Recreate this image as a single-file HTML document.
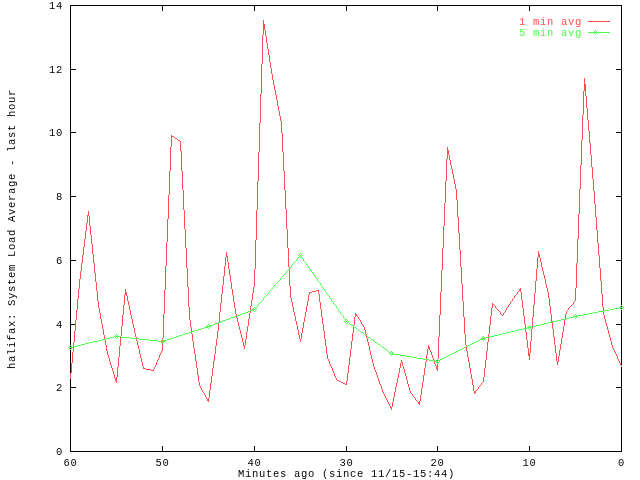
<!DOCTYPE html>
<html><head><meta charset="utf-8"><title>halifax: System Load Average - last hour</title>
<style>
html,body{margin:0;padding:0;background:#fff;width:640px;height:480px;overflow:hidden}
svg{display:block}
text{font-family:"Liberation Mono","DejaVu Sans Mono",monospace;font-size:10.5px;letter-spacing:0.7px}
</style></head><body>
<svg width="640" height="480" viewBox="0 0 640 480">
<rect width="640" height="480" fill="#fff"/>

<g stroke="#000" stroke-width="1" fill="none" shape-rendering="crispEdges">
<rect x="70.5" y="5.5" width="551" height="446"/>
<path d="M70 451.5H76M616 451.5H622M70 387.5H76M616 387.5H622M70 324.5H76M616 324.5H622M70 260.5H76M616 260.5H622M70 196.5H76M616 196.5H622M70 132.5H76M616 132.5H622M70 69.5H76M616 69.5H622M70 5.5H76M616 5.5H622M70.5 452V446M70.5 5V11M162.5 452V446M162.5 5V11M254.5 452V446M254.5 5V11M346.5 452V446M346.5 5V11M437.5 452V446M437.5 5V11M529.5 452V446M529.5 5V11M621.5 452V446M621.5 5V11"/>
</g>
<g fill="#000" style="opacity:0.999">
<text x="63" y="455" text-anchor="end">0</text>
<text x="63" y="391" text-anchor="end">2</text>
<text x="63" y="328" text-anchor="end">4</text>
<text x="63" y="264" text-anchor="end">6</text>
<text x="63" y="200" text-anchor="end">8</text>
<text x="63" y="136" text-anchor="end">10</text>
<text x="63" y="73" text-anchor="end">12</text>
<text x="63" y="9" text-anchor="end">14</text>
<text x="70.5" y="466" text-anchor="middle">60</text>
<text x="162.5" y="466" text-anchor="middle">50</text>
<text x="254.5" y="466" text-anchor="middle">40</text>
<text x="346.5" y="466" text-anchor="middle">30</text>
<text x="437.5" y="466" text-anchor="middle">20</text>
<text x="529.5" y="466" text-anchor="middle">10</text>
<text x="621.5" y="466" text-anchor="middle">0</text>
<text x="238" y="477">Minutes ago (since 11/15-15:44)</text>
<text transform="translate(15,369) rotate(-90)" x="0" y="0">halifax: System Load Average - last hour</text>
</g>
<g style="opacity:0.999"><text x="519" y="25" fill="#ff5050">1 min avg</text>
<text x="519" y="36" fill="#50ff50">5 min avg</text></g>
<g shape-rendering="crispEdges" stroke-width="1" fill="none" stroke-linejoin="round">
<path fill="#ff5050" d="M588 21h1v1h-1zM589 21h1v1h-1zM590 21h1v1h-1zM591 21h1v1h-1zM592 21h1v1h-1zM593 21h1v1h-1zM594 21h1v1h-1zM595 21h1v1h-1zM596 21h1v1h-1zM597 21h1v1h-1zM598 21h1v1h-1zM599 21h1v1h-1zM600 21h1v1h-1zM601 21h1v1h-1zM602 21h1v1h-1zM603 21h1v1h-1zM604 21h1v1h-1zM605 21h1v1h-1zM606 21h1v1h-1zM607 21h1v1h-1zM608 21h1v1h-1zM609 21h1v1h-1z"/>
<path fill="#50ff50" d="M588 32h1v1h-1zM589 32h1v1h-1zM590 32h1v1h-1zM591 32h1v1h-1zM592 32h1v1h-1zM593 32h1v1h-1zM594 31h1v3h-1zM595 30h1v1h-1zM595 32h1v1h-1zM595 34h1v1h-1zM596 31h1v3h-1zM597 32h1v1h-1zM598 32h1v1h-1zM599 32h1v1h-1zM600 32h1v1h-1zM601 32h1v1h-1zM602 32h1v1h-1zM603 32h1v1h-1zM604 32h1v1h-1zM605 32h1v1h-1zM606 32h1v1h-1zM607 32h1v1h-1zM608 32h1v1h-1zM609 32h1v1h-1z"/>
</g>
<path fill="#ff5050" shape-rendering="crispEdges" d="M70 373h1v6h-1zM71 363h1v10h-1zM72 352h1v11h-1zM73 342h1v4h-1zM73 347h1v5h-1zM74 331h1v11h-1zM75 320h1v11h-1zM76 310h1v10h-1zM77 299h1v11h-1zM78 289h1v10h-1zM79 279h1v10h-1zM80 271h1v8h-1zM81 263h1v8h-1zM82 255h1v8h-1zM83 247h1v8h-1zM84 239h1v8h-1zM85 231h1v8h-1zM86 223h1v8h-1zM87 215h1v8h-1zM88 211h1v5h-1zM89 216h1v10h-1zM90 226h1v9h-1zM91 235h1v9h-1zM92 244h1v10h-1zM93 254h1v9h-1zM94 263h1v10h-1zM95 273h1v9h-1zM96 282h1v9h-1zM97 291h1v10h-1zM98 301h1v7h-1zM99 308h1v5h-1zM100 313h1v6h-1zM101 319h1v5h-1zM102 324h1v5h-1zM103 329h1v6h-1zM104 335h1v4h-1zM105 340h1v5h-1zM106 345h1v6h-1zM107 351h1v4h-1zM108 355h1v3h-1zM109 358h1v4h-1zM110 362h1v3h-1zM111 365h1v3h-1zM112 368h1v3h-1zM113 371h1v3h-1zM114 374h1v4h-1zM115 378h1v3h-1zM116 377h1v6h-1zM117 367h1v10h-1zM118 357h1v10h-1zM119 346h1v11h-1zM120 337h1v9h-1zM121 326h1v10h-1zM122 315h1v11h-1zM123 305h1v10h-1zM124 295h1v10h-1zM125 289h1v6h-1zM126 292h1v4h-1zM127 296h1v5h-1zM128 301h1v4h-1zM129 305h1v5h-1zM130 310h1v5h-1zM131 315h1v4h-1zM132 319h1v5h-1zM133 324h1v4h-1zM134 328h1v5h-1zM135 333h1v4h-1zM136 337h1v1h-1zM136 339h1v2h-1zM137 341h1v4h-1zM138 345h1v4h-1zM139 349h1v5h-1zM140 354h1v4h-1zM141 358h1v4h-1zM142 362h1v4h-1zM143 366h1v3h-1zM144 368h1v1h-1zM145 368h1v1h-1zM146 369h1v1h-1zM147 369h1v1h-1zM148 369h1v1h-1zM149 369h1v1h-1zM150 369h1v1h-1zM151 370h1v1h-1zM152 370h1v1h-1zM153 369h1v2h-1zM154 367h1v2h-1zM155 365h1v2h-1zM156 362h1v3h-1zM157 360h1v2h-1zM158 358h1v2h-1zM159 355h1v3h-1zM160 353h1v2h-1zM161 351h1v2h-1zM162 338h1v1h-1zM162 340h1v1h-1zM162 342h1v1h-1zM162 344h1v7h-1zM163 314h1v24h-1zM164 290h1v24h-1zM165 266h1v24h-1zM166 242h1v24h-1zM167 219h1v23h-1zM168 195h1v24h-1zM169 171h1v24h-1zM170 147h1v24h-1zM171 135h1v12h-1zM172 136h1v1h-1zM173 136h1v1h-1zM174 137h1v1h-1zM175 138h1v1h-1zM176 138h1v1h-1zM177 139h1v1h-1zM178 140h1v1h-1zM179 140h1v1h-1zM180 141h1v10h-1zM181 151h1v20h-1zM182 171h1v19h-1zM183 190h1v20h-1zM184 210h1v19h-1zM185 229h1v19h-1zM186 248h1v20h-1zM187 268h1v19h-1zM188 287h1v20h-1zM189 307h1v13h-1zM190 320h1v7h-1zM191 327h1v5h-1zM191 333h1v1h-1zM192 334h1v7h-1zM193 341h1v7h-1zM194 348h1v6h-1zM195 354h1v7h-1zM196 361h1v7h-1zM197 368h1v7h-1zM198 375h1v7h-1zM199 382h1v4h-1zM200 386h1v2h-1zM201 388h1v2h-1zM202 390h1v2h-1zM203 392h1v1h-1zM204 393h1v2h-1zM205 395h1v2h-1zM206 397h1v2h-1zM207 399h1v2h-1zM208 398h1v4h-1zM209 390h1v8h-1zM210 383h1v7h-1zM211 376h1v7h-1zM212 368h1v8h-1zM213 361h1v7h-1zM214 354h1v7h-1zM215 346h1v8h-1zM216 339h1v7h-1zM217 331h1v8h-1zM218 323h1v8h-1zM219 312h1v10h-1zM220 303h1v9h-1zM221 294h1v9h-1zM222 285h1v9h-1zM223 276h1v9h-1zM224 266h1v10h-1zM225 257h1v9h-1zM226 252h1v5h-1zM227 256h1v6h-1zM228 262h1v7h-1zM229 269h1v6h-1zM230 275h1v7h-1zM231 282h1v7h-1zM232 289h1v6h-1zM233 295h1v7h-1zM234 302h1v6h-1zM235 308h1v6h-1zM236 314h1v2h-1zM236 317h1v1h-1zM237 318h1v4h-1zM238 322h1v4h-1zM239 326h1v4h-1zM240 330h1v4h-1zM241 334h1v4h-1zM242 338h1v4h-1zM243 342h1v4h-1zM244 345h1v4h-1zM245 339h1v6h-1zM246 332h1v7h-1zM247 326h1v6h-1zM248 319h1v7h-1zM249 313h1v6h-1zM250 306h1v4h-1zM250 311h1v2h-1zM251 300h1v6h-1zM252 293h1v7h-1zM253 287h1v6h-1zM254 269h1v18h-1zM255 240h1v29h-1zM256 210h1v30h-1zM257 181h1v29h-1zM258 152h1v29h-1zM259 123h1v29h-1zM260 94h1v29h-1zM261 64h1v30h-1zM262 35h1v29h-1zM263 20h1v15h-1zM264 24h1v6h-1zM265 30h1v6h-1zM266 36h1v7h-1zM267 43h1v6h-1zM268 49h1v6h-1zM269 55h1v7h-1zM270 62h1v6h-1zM271 68h1v6h-1zM272 74h1v6h-1zM273 80h1v5h-1zM274 85h1v5h-1zM275 90h1v5h-1zM276 95h1v5h-1zM277 100h1v6h-1zM278 106h1v5h-1zM279 111h1v5h-1zM280 116h1v5h-1zM281 121h1v12h-1zM282 133h1v19h-1zM283 152h1v19h-1zM284 171h1v19h-1zM285 190h1v19h-1zM286 209h1v20h-1zM287 229h1v19h-1zM288 248h1v19h-1zM289 267h1v1h-1zM289 269h1v17h-1zM290 286h1v12h-1zM291 298h1v4h-1zM292 302h1v5h-1zM293 307h1v5h-1zM294 312h1v4h-1zM295 316h1v5h-1zM296 321h1v4h-1zM297 325h1v5h-1zM298 330h1v5h-1zM299 335h1v4h-1zM300 339h1v3h-1zM301 333h1v6h-1zM302 328h1v5h-1zM303 322h1v6h-1zM304 317h1v5h-1zM305 312h1v5h-1zM306 306h1v6h-1zM307 301h1v5h-1zM308 295h1v6h-1zM309 292h1v3h-1zM310 292h1v1h-1zM311 292h1v1h-1zM312 291h1v1h-1zM313 291h1v1h-1zM314 291h1v1h-1zM315 291h1v1h-1zM316 290h1v1h-1zM317 290h1v1h-1zM318 290h1v4h-1zM319 294h1v8h-1zM320 302h1v7h-1zM321 309h1v8h-1zM322 317h1v7h-1zM323 324h1v7h-1zM324 331h1v8h-1zM325 339h1v7h-1zM326 346h1v8h-1zM327 354h1v5h-1zM328 359h1v2h-1zM329 361h1v3h-1zM330 364h1v2h-1zM331 366h1v2h-1zM332 368h1v3h-1zM333 371h1v2h-1zM334 373h1v3h-1zM335 376h1v2h-1zM336 378h1v2h-1zM337 380h1v1h-1zM338 380h1v1h-1zM339 381h1v1h-1zM340 381h1v1h-1zM341 382h1v1h-1zM342 382h1v1h-1zM343 383h1v1h-1zM344 383h1v1h-1zM345 384h1v1h-1zM346 381h1v4h-1zM347 373h1v8h-1zM348 365h1v8h-1zM349 357h1v8h-1zM350 349h1v8h-1zM351 341h1v8h-1zM352 333h1v8h-1zM353 325h1v1h-1zM353 327h1v6h-1zM354 317h1v8h-1zM355 313h1v4h-1zM356 314h1v2h-1zM357 316h1v1h-1zM358 317h1v2h-1zM359 319h1v1h-1zM360 320h1v2h-1zM361 322h1v2h-1zM362 324h1v1h-1zM363 325h1v2h-1zM364 327h1v3h-1zM365 330h1v4h-1zM366 334h1v1h-1zM366 336h1v2h-1zM367 338h1v4h-1zM368 342h1v4h-1zM369 346h1v5h-1zM370 351h1v4h-1zM371 355h1v4h-1zM372 359h1v4h-1zM373 363h1v4h-1zM374 367h1v3h-1zM375 370h1v2h-1zM376 372h1v3h-1zM377 375h1v3h-1zM378 378h1v3h-1zM379 381h1v3h-1zM380 384h1v2h-1zM381 386h1v3h-1zM382 389h1v3h-1zM383 392h1v2h-1zM384 394h1v2h-1zM385 396h1v2h-1zM386 398h1v2h-1zM387 400h1v2h-1zM388 402h1v2h-1zM389 404h1v2h-1zM390 406h1v2h-1zM391 407h1v3h-1zM392 402h1v5h-1zM393 397h1v5h-1zM394 392h1v5h-1zM395 387h1v5h-1zM396 383h1v4h-1zM397 378h1v5h-1zM398 373h1v5h-1zM399 368h1v5h-1zM400 363h1v5h-1zM401 360h1v3h-1zM402 362h1v4h-1zM403 366h1v3h-1zM404 369h1v4h-1zM405 373h1v3h-1zM406 376h1v4h-1zM407 380h1v4h-1zM408 384h1v3h-1zM409 387h1v4h-1zM410 391h1v2h-1zM411 393h1v1h-1zM412 394h1v2h-1zM413 396h1v1h-1zM414 397h1v1h-1zM415 398h1v2h-1zM416 400h1v1h-1zM417 401h1v1h-1zM418 402h1v2h-1zM419 401h1v4h-1zM420 395h1v6h-1zM421 388h1v7h-1zM422 382h1v6h-1zM423 375h1v7h-1zM424 368h1v7h-1zM425 362h1v6h-1zM426 355h1v4h-1zM426 360h1v2h-1zM427 349h1v6h-1zM428 345h1v4h-1zM429 347h1v3h-1zM430 350h1v2h-1zM431 352h1v3h-1zM432 355h1v3h-1zM433 358h1v2h-1zM434 361h1v3h-1zM435 364h1v2h-1zM436 366h1v3h-1zM437 360h1v1h-1zM437 362h1v1h-1zM437 364h1v7h-1zM438 337h1v22h-1zM439 315h1v22h-1zM440 292h1v23h-1zM441 270h1v22h-1zM442 248h1v22h-1zM443 226h1v22h-1zM444 203h1v23h-1zM445 181h1v22h-1zM446 159h1v22h-1zM447 147h1v12h-1zM448 150h1v5h-1zM449 155h1v5h-1zM450 160h1v5h-1zM451 165h1v4h-1zM452 169h1v5h-1zM453 174h1v5h-1zM454 179h1v5h-1zM455 184h1v5h-1zM456 189h1v11h-1zM457 200h1v17h-1zM458 217h1v16h-1zM459 233h1v17h-1zM460 250h1v17h-1zM461 267h1v17h-1zM462 284h1v17h-1zM463 301h1v16h-1zM464 317h1v17h-1zM465 334h1v11h-1zM466 345h1v1h-1zM466 347h1v4h-1zM467 351h1v6h-1zM468 357h1v5h-1zM469 362h1v6h-1zM470 368h1v6h-1zM471 374h1v5h-1zM472 379h1v6h-1zM473 385h1v6h-1zM474 391h1v3h-1zM475 391h1v2h-1zM476 390h1v1h-1zM477 389h1v1h-1zM478 387h1v2h-1zM479 386h1v1h-1zM480 385h1v1h-1zM481 383h1v2h-1zM482 382h1v1h-1zM483 377h1v5h-1zM484 368h1v9h-1zM485 360h1v8h-1zM486 351h1v9h-1zM487 342h1v9h-1zM488 334h1v3h-1zM488 338h1v4h-1zM489 325h1v9h-1zM490 316h1v9h-1zM491 308h1v8h-1zM492 303h1v5h-1zM493 304h1v1h-1zM494 305h1v1h-1zM495 306h1v2h-1zM496 308h1v1h-1zM497 309h1v1h-1zM498 310h1v1h-1zM499 311h1v1h-1zM500 312h1v2h-1zM501 314h1v1h-1zM502 315h1v1h-1zM503 313h1v2h-1zM504 312h1v1h-1zM505 310h1v2h-1zM506 308h1v2h-1zM507 307h1v1h-1zM508 305h1v2h-1zM509 304h1v1h-1zM510 302h1v2h-1zM511 301h1v1h-1zM512 299h1v2h-1zM513 298h1v1h-1zM514 296h1v2h-1zM515 295h1v1h-1zM516 294h1v1h-1zM517 292h1v2h-1zM518 291h1v1h-1zM519 289h1v2h-1zM520 288h1v4h-1zM521 292h1v8h-1zM522 300h1v8h-1zM523 308h1v8h-1zM524 316h1v8h-1zM525 324h1v4h-1zM525 329h1v3h-1zM526 332h1v8h-1zM527 340h1v8h-1zM528 348h1v8h-1zM529 353h1v7h-1zM530 341h1v12h-1zM531 329h1v12h-1zM532 317h1v9h-1zM532 327h1v2h-1zM533 305h1v12h-1zM534 293h1v12h-1zM535 281h1v12h-1zM536 269h1v12h-1zM537 257h1v12h-1zM538 251h1v6h-1zM539 254h1v4h-1zM540 258h1v4h-1zM541 262h1v5h-1zM542 267h1v4h-1zM543 271h1v4h-1zM544 275h1v4h-1zM545 279h1v5h-1zM546 284h1v4h-1zM547 288h1v4h-1zM548 292h1v6h-1zM549 298h1v8h-1zM550 306h1v8h-1zM551 314h1v8h-1zM552 322h1v7h-1zM553 329h1v8h-1zM554 337h1v8h-1zM555 345h1v8h-1zM556 353h1v8h-1zM557 361h1v4h-1zM558 356h1v6h-1zM559 350h1v6h-1zM560 344h1v6h-1zM561 338h1v6h-1zM562 332h1v6h-1zM563 326h1v6h-1zM564 320h1v6h-1zM565 314h1v4h-1zM565 319h1v1h-1zM566 311h1v3h-1zM567 310h1v1h-1zM568 308h1v2h-1zM569 307h1v1h-1zM570 306h1v1h-1zM571 305h1v1h-1zM572 304h1v1h-1zM573 302h1v2h-1zM574 301h1v1h-1zM575 288h1v13h-1zM576 263h1v25h-1zM577 239h1v24h-1zM578 214h1v25h-1zM579 189h1v25h-1zM580 165h1v24h-1zM581 140h1v25h-1zM582 115h1v25h-1zM583 91h1v24h-1zM584 78h1v13h-1zM585 84h1v12h-1zM586 96h1v12h-1zM587 108h1v12h-1zM588 120h1v11h-1zM589 131h1v12h-1zM590 143h1v12h-1zM591 155h1v12h-1zM592 167h1v12h-1zM593 179h1v12h-1zM594 191h1v13h-1zM595 204h1v13h-1zM596 217h1v13h-1zM597 230h1v13h-1zM598 243h1v12h-1zM599 255h1v13h-1zM600 268h1v13h-1zM601 281h1v13h-1zM602 294h1v13h-1zM603 307h1v4h-1zM603 312h1v3h-1zM604 315h1v4h-1zM605 319h1v4h-1zM606 323h1v3h-1zM607 326h1v4h-1zM608 330h1v4h-1zM609 334h1v3h-1zM610 337h1v4h-1zM611 341h1v4h-1zM612 345h1v3h-1zM613 348h1v2h-1zM614 350h1v2h-1zM615 352h1v2h-1zM616 354h1v2h-1zM617 356h1v3h-1zM618 359h1v2h-1zM619 361h1v2h-1zM620 363h1v2h-1zM621 365h1v2h-1z"/>
<path fill="#50ff50" shape-rendering="crispEdges" d="M68 347h1v1h-1zM69 346h1v1h-1zM69 348h1v1h-1zM70 345h1v1h-1zM70 347h1v1h-1zM70 349h1v1h-1zM71 346h1v3h-1zM72 347h1v1h-1zM73 346h1v1h-1zM74 346h1v1h-1zM75 346h1v1h-1zM76 346h1v1h-1zM77 345h1v1h-1zM78 345h1v1h-1zM79 345h1v1h-1zM80 345h1v1h-1zM81 344h1v1h-1zM82 344h1v1h-1zM83 344h1v1h-1zM84 344h1v1h-1zM85 343h1v1h-1zM86 343h1v1h-1zM87 343h1v1h-1zM88 343h1v1h-1zM89 342h1v1h-1zM90 342h1v1h-1zM91 342h1v1h-1zM92 342h1v1h-1zM93 341h1v1h-1zM94 341h1v1h-1zM95 341h1v1h-1zM96 341h1v1h-1zM97 341h1v1h-1zM98 340h1v1h-1zM99 340h1v1h-1zM100 340h1v1h-1zM101 340h1v1h-1zM102 339h1v1h-1zM103 339h1v1h-1zM104 339h1v1h-1zM105 339h1v1h-1zM106 338h1v1h-1zM107 338h1v1h-1zM108 338h1v1h-1zM109 338h1v1h-1zM110 337h1v1h-1zM111 337h1v1h-1zM112 337h1v1h-1zM113 337h1v1h-1zM114 336h1v1h-1zM115 335h1v3h-1zM116 334h1v1h-1zM116 336h1v1h-1zM116 338h1v1h-1zM117 335h1v3h-1zM118 336h1v1h-1zM119 336h1v1h-1zM120 336h1v1h-1zM121 337h1v1h-1zM122 337h1v1h-1zM123 337h1v1h-1zM124 337h1v1h-1zM125 337h1v1h-1zM126 337h1v1h-1zM127 337h1v1h-1zM128 337h1v1h-1zM129 337h1v1h-1zM130 338h1v1h-1zM131 338h1v1h-1zM132 338h1v1h-1zM133 338h1v1h-1zM134 338h1v1h-1zM135 338h1v1h-1zM136 338h1v1h-1zM137 338h1v1h-1zM138 338h1v1h-1zM139 339h1v1h-1zM140 339h1v1h-1zM141 339h1v1h-1zM142 339h1v1h-1zM143 339h1v1h-1zM144 339h1v1h-1zM145 339h1v1h-1zM146 339h1v1h-1zM147 339h1v1h-1zM148 339h1v1h-1zM149 340h1v1h-1zM150 340h1v1h-1zM151 340h1v1h-1zM152 340h1v1h-1zM153 340h1v1h-1zM154 340h1v1h-1zM155 340h1v1h-1zM156 340h1v1h-1zM157 340h1v1h-1zM158 341h1v1h-1zM159 341h1v1h-1zM160 341h1v1h-1zM161 340h1v3h-1zM162 339h1v1h-1zM162 341h1v1h-1zM162 343h1v1h-1zM163 340h1v3h-1zM164 340h1v2h-1zM165 340h1v1h-1zM166 340h1v1h-1zM167 339h1v1h-1zM168 339h1v1h-1zM169 339h1v1h-1zM170 338h1v1h-1zM171 338h1v1h-1zM172 338h1v1h-1zM173 337h1v1h-1zM174 337h1v1h-1zM175 337h1v1h-1zM176 336h1v1h-1zM177 336h1v1h-1zM178 336h1v1h-1zM179 335h1v1h-1zM180 335h1v1h-1zM181 335h1v1h-1zM182 334h1v1h-1zM183 334h1v1h-1zM184 334h1v1h-1zM185 333h1v1h-1zM186 333h1v1h-1zM187 333h1v1h-1zM188 333h1v1h-1zM189 332h1v1h-1zM190 332h1v1h-1zM191 332h1v1h-1zM192 331h1v1h-1zM193 331h1v1h-1zM194 331h1v1h-1zM195 330h1v1h-1zM196 330h1v1h-1zM197 330h1v1h-1zM198 329h1v1h-1zM199 329h1v1h-1zM200 329h1v1h-1zM201 328h1v1h-1zM202 328h1v1h-1zM203 328h1v1h-1zM204 327h1v1h-1zM205 327h1v1h-1zM206 326h1v2h-1zM207 325h1v3h-1zM208 324h1v1h-1zM208 326h1v1h-1zM208 328h1v1h-1zM209 325h1v3h-1zM210 325h1v2h-1zM211 325h1v1h-1zM212 325h1v1h-1zM213 324h1v1h-1zM214 324h1v1h-1zM215 323h1v1h-1zM216 323h1v1h-1zM217 323h1v1h-1zM218 322h1v1h-1zM219 322h1v1h-1zM220 322h1v1h-1zM221 321h1v1h-1zM222 321h1v1h-1zM223 320h1v1h-1zM224 320h1v1h-1zM225 320h1v1h-1zM226 319h1v1h-1zM227 319h1v1h-1zM228 319h1v1h-1zM229 318h1v1h-1zM230 318h1v1h-1zM231 317h1v1h-1zM232 317h1v1h-1zM233 317h1v1h-1zM234 316h1v1h-1zM235 316h1v1h-1zM236 316h1v1h-1zM237 315h1v1h-1zM238 315h1v1h-1zM239 315h1v1h-1zM240 314h1v1h-1zM241 314h1v1h-1zM242 313h1v1h-1zM243 313h1v1h-1zM244 313h1v1h-1zM245 312h1v1h-1zM246 312h1v1h-1zM247 312h1v1h-1zM248 311h1v1h-1zM249 311h1v1h-1zM250 310h1v1h-1zM251 310h1v1h-1zM252 309h1v2h-1zM253 308h1v3h-1zM254 307h1v1h-1zM254 309h1v1h-1zM254 311h1v1h-1zM255 308h1v1h-1zM255 310h1v1h-1zM256 307h1v1h-1zM256 309h1v1h-1zM257 305h1v2h-1zM258 304h1v1h-1zM259 303h1v1h-1zM260 302h1v1h-1zM261 301h1v1h-1zM262 300h1v1h-1zM263 298h1v2h-1zM264 297h1v1h-1zM265 296h1v1h-1zM266 295h1v1h-1zM267 294h1v1h-1zM268 292h1v2h-1zM269 291h1v1h-1zM270 290h1v1h-1zM271 289h1v1h-1zM272 288h1v1h-1zM273 287h1v1h-1zM274 285h1v2h-1zM275 284h1v1h-1zM276 283h1v1h-1zM277 282h1v1h-1zM278 281h1v1h-1zM279 280h1v1h-1zM280 278h1v2h-1zM281 277h1v1h-1zM282 276h1v1h-1zM283 275h1v1h-1zM284 274h1v1h-1zM285 273h1v1h-1zM286 271h1v2h-1zM287 270h1v1h-1zM288 269h1v1h-1zM289 268h1v1h-1zM290 267h1v1h-1zM291 265h1v2h-1zM292 264h1v1h-1zM293 263h1v1h-1zM294 262h1v1h-1zM295 261h1v1h-1zM296 260h1v1h-1zM297 258h1v2h-1zM298 255h1v1h-1zM298 257h1v1h-1zM299 254h1v1h-1zM299 256h1v1h-1zM300 253h1v1h-1zM300 255h1v1h-1zM300 257h1v1h-1zM301 254h1v1h-1zM301 256h1v2h-1zM302 255h1v1h-1zM302 258h1v1h-1zM303 259h1v2h-1zM304 261h1v1h-1zM305 262h1v1h-1zM306 263h1v2h-1zM307 265h1v1h-1zM308 266h1v2h-1zM309 268h1v1h-1zM310 269h1v2h-1zM311 271h1v1h-1zM312 272h1v1h-1zM313 273h1v2h-1zM314 275h1v1h-1zM315 276h1v2h-1zM316 278h1v1h-1zM317 279h1v2h-1zM318 281h1v1h-1zM319 282h1v1h-1zM320 283h1v2h-1zM321 285h1v1h-1zM322 286h1v2h-1zM323 288h1v1h-1zM324 289h1v2h-1zM325 291h1v1h-1zM326 292h1v2h-1zM327 294h1v1h-1zM328 295h1v1h-1zM329 296h1v2h-1zM330 298h1v1h-1zM331 299h1v2h-1zM332 301h1v1h-1zM333 302h1v2h-1zM334 304h1v1h-1zM335 305h1v1h-1zM336 306h1v2h-1zM337 308h1v1h-1zM338 309h1v2h-1zM339 311h1v1h-1zM340 312h1v2h-1zM341 314h1v1h-1zM342 315h1v1h-1zM343 316h1v2h-1zM344 318h1v1h-1zM344 321h1v1h-1zM345 319h1v2h-1zM345 322h1v1h-1zM346 319h1v1h-1zM346 321h1v1h-1zM346 323h1v1h-1zM347 320h1v1h-1zM347 322h1v1h-1zM348 321h1v2h-1zM349 323h1v1h-1zM350 324h1v1h-1zM351 325h1v1h-1zM352 325h1v1h-1zM353 326h1v1h-1zM354 327h1v1h-1zM355 327h1v1h-1zM356 328h1v1h-1zM357 329h1v1h-1zM358 330h1v1h-1zM359 330h1v1h-1zM360 331h1v1h-1zM361 332h1v1h-1zM362 332h1v1h-1zM363 333h1v1h-1zM364 334h1v1h-1zM365 335h1v1h-1zM366 335h1v1h-1zM367 336h1v1h-1zM368 337h1v1h-1zM369 337h1v1h-1zM370 338h1v1h-1zM371 339h1v1h-1zM372 339h1v1h-1zM373 340h1v1h-1zM374 341h1v1h-1zM375 342h1v1h-1zM376 342h1v1h-1zM377 343h1v1h-1zM378 344h1v1h-1zM379 344h1v1h-1zM380 345h1v1h-1zM381 346h1v1h-1zM382 347h1v1h-1zM383 347h1v1h-1zM384 348h1v1h-1zM385 349h1v1h-1zM386 349h1v1h-1zM387 350h1v1h-1zM388 351h1v1h-1zM389 352h1v2h-1zM390 352h1v1h-1zM390 354h1v1h-1zM391 351h1v1h-1zM391 353h1v1h-1zM391 355h1v1h-1zM392 352h1v3h-1zM393 353h1v1h-1zM394 354h1v1h-1zM395 354h1v1h-1zM396 354h1v1h-1zM397 354h1v1h-1zM398 354h1v1h-1zM399 354h1v1h-1zM400 355h1v1h-1zM401 355h1v1h-1zM402 355h1v1h-1zM403 355h1v1h-1zM404 355h1v1h-1zM405 355h1v1h-1zM406 356h1v1h-1zM407 356h1v1h-1zM408 356h1v1h-1zM409 356h1v1h-1zM410 356h1v1h-1zM411 356h1v1h-1zM412 357h1v1h-1zM413 357h1v1h-1zM414 357h1v1h-1zM415 357h1v1h-1zM416 357h1v1h-1zM417 358h1v1h-1zM418 358h1v1h-1zM419 358h1v1h-1zM420 358h1v1h-1zM421 358h1v1h-1zM422 358h1v1h-1zM423 359h1v1h-1zM424 359h1v1h-1zM425 359h1v1h-1zM426 359h1v1h-1zM427 359h1v1h-1zM428 359h1v1h-1zM429 360h1v1h-1zM430 360h1v1h-1zM431 360h1v1h-1zM432 360h1v1h-1zM433 360h1v1h-1zM434 360h1v1h-1zM435 361h1v1h-1zM436 360h1v3h-1zM437 359h1v1h-1zM437 361h1v1h-1zM437 363h1v1h-1zM438 360h1v1h-1zM438 362h1v1h-1zM439 360h1v2h-1zM440 359h1v1h-1zM441 359h1v1h-1zM442 358h1v1h-1zM443 358h1v1h-1zM444 357h1v1h-1zM445 357h1v1h-1zM446 356h1v1h-1zM447 356h1v1h-1zM448 355h1v1h-1zM449 355h1v1h-1zM450 354h1v1h-1zM451 354h1v1h-1zM452 353h1v1h-1zM453 353h1v1h-1zM454 352h1v1h-1zM455 352h1v1h-1zM456 351h1v1h-1zM457 351h1v1h-1zM458 350h1v1h-1zM459 350h1v1h-1zM460 349h1v1h-1zM461 349h1v1h-1zM462 348h1v1h-1zM463 348h1v1h-1zM464 347h1v1h-1zM465 347h1v1h-1zM466 346h1v1h-1zM467 346h1v1h-1zM468 345h1v1h-1zM469 345h1v1h-1zM470 344h1v1h-1zM471 344h1v1h-1zM472 343h1v1h-1zM473 343h1v1h-1zM474 342h1v1h-1zM475 342h1v1h-1zM476 341h1v1h-1zM477 341h1v1h-1zM478 340h1v1h-1zM479 340h1v1h-1zM480 339h1v1h-1zM481 338h1v2h-1zM482 337h1v3h-1zM483 336h1v1h-1zM483 338h1v1h-1zM483 340h1v1h-1zM484 337h1v3h-1zM485 338h1v1h-1zM486 337h1v1h-1zM487 337h1v1h-1zM488 337h1v1h-1zM489 337h1v1h-1zM490 336h1v1h-1zM491 336h1v1h-1zM492 336h1v1h-1zM493 336h1v1h-1zM494 335h1v1h-1zM495 335h1v1h-1zM496 335h1v1h-1zM497 335h1v1h-1zM498 334h1v1h-1zM499 334h1v1h-1zM500 334h1v1h-1zM501 334h1v1h-1zM502 333h1v1h-1zM503 333h1v1h-1zM504 333h1v1h-1zM505 333h1v1h-1zM506 332h1v1h-1zM507 332h1v1h-1zM508 332h1v1h-1zM509 332h1v1h-1zM510 332h1v1h-1zM511 331h1v1h-1zM512 331h1v1h-1zM513 331h1v1h-1zM514 331h1v1h-1zM515 330h1v1h-1zM516 330h1v1h-1zM517 330h1v1h-1zM518 330h1v1h-1zM519 329h1v1h-1zM520 329h1v1h-1zM521 329h1v1h-1zM522 329h1v1h-1zM523 328h1v1h-1zM524 328h1v1h-1zM525 328h1v1h-1zM526 328h1v1h-1zM527 327h1v1h-1zM528 326h1v3h-1zM529 325h1v1h-1zM529 327h1v1h-1zM529 329h1v1h-1zM530 326h1v3h-1zM531 327h1v1h-1zM532 326h1v1h-1zM533 326h1v1h-1zM534 326h1v1h-1zM535 326h1v1h-1zM536 325h1v1h-1zM537 325h1v1h-1zM538 325h1v1h-1zM539 325h1v1h-1zM540 324h1v1h-1zM541 324h1v1h-1zM542 324h1v1h-1zM543 324h1v1h-1zM544 323h1v1h-1zM545 323h1v1h-1zM546 323h1v1h-1zM547 323h1v1h-1zM548 322h1v1h-1zM549 322h1v1h-1zM550 322h1v1h-1zM551 322h1v1h-1zM552 321h1v1h-1zM553 321h1v1h-1zM554 321h1v1h-1zM555 321h1v1h-1zM556 321h1v1h-1zM557 320h1v1h-1zM558 320h1v1h-1zM559 320h1v1h-1zM560 320h1v1h-1zM561 319h1v1h-1zM562 319h1v1h-1zM563 319h1v1h-1zM564 319h1v1h-1zM565 318h1v1h-1zM566 318h1v1h-1zM567 318h1v1h-1zM568 318h1v1h-1zM569 317h1v1h-1zM570 317h1v1h-1zM571 317h1v1h-1zM572 317h1v1h-1zM573 316h1v1h-1zM574 315h1v3h-1zM575 314h1v1h-1zM575 316h1v1h-1zM575 318h1v1h-1zM576 315h1v3h-1zM577 316h1v1h-1zM578 315h1v1h-1zM579 315h1v1h-1zM580 315h1v1h-1zM581 315h1v1h-1zM582 315h1v1h-1zM583 314h1v1h-1zM584 314h1v1h-1zM585 314h1v1h-1zM586 314h1v1h-1zM587 314h1v1h-1zM588 313h1v1h-1zM589 313h1v1h-1zM590 313h1v1h-1zM591 313h1v1h-1zM592 313h1v1h-1zM593 312h1v1h-1zM594 312h1v1h-1zM595 312h1v1h-1zM596 312h1v1h-1zM597 312h1v1h-1zM598 311h1v1h-1zM599 311h1v1h-1zM600 311h1v1h-1zM601 311h1v1h-1zM602 311h1v1h-1zM603 311h1v1h-1zM604 310h1v1h-1zM605 310h1v1h-1zM606 310h1v1h-1zM607 310h1v1h-1zM608 310h1v1h-1zM609 309h1v1h-1zM610 309h1v1h-1zM611 309h1v1h-1zM612 309h1v1h-1zM613 309h1v1h-1zM614 308h1v1h-1zM615 308h1v1h-1zM616 308h1v1h-1zM617 308h1v1h-1zM618 308h1v1h-1zM619 307h1v1h-1zM620 306h1v3h-1zM621 305h1v1h-1zM621 307h1v1h-1zM621 309h1v1h-1zM622 306h1v1h-1zM622 308h1v1h-1zM623 307h1v1h-1z"/>
</svg>
</body></html>
